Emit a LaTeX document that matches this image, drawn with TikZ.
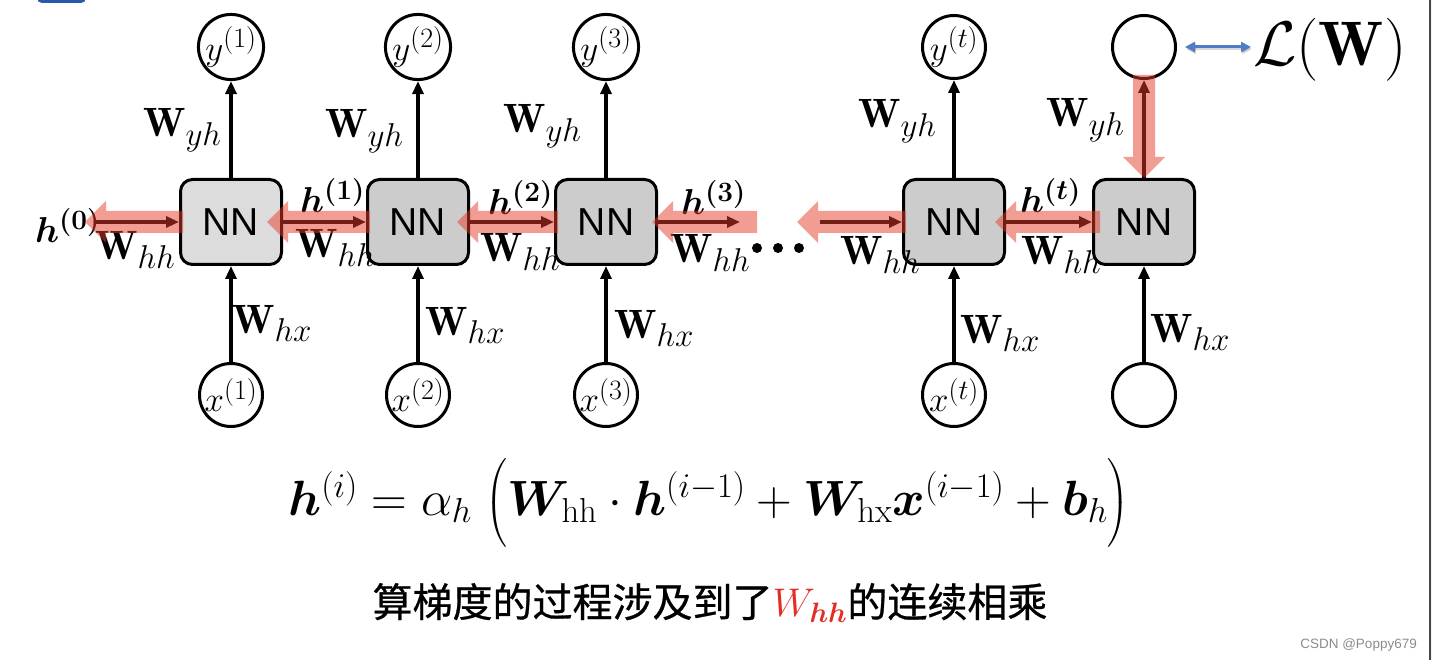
\RequirePackage{fix-cm}
\documentclass[tikz,border=0pt]{standalone}
\usepackage{amsmath,bm}
\usepackage{fontspec}
\newfontfamily\nnfont{Liberation Sans}
\newfontfamily\cjk[FakeBold=0.7]{Noto Sans CJK SC}
\usetikzlibrary{arrows.meta,calc}
\DeclareMathSizes{41}{41}{33}{26}
\DeclareMathSizes{36}{36}{28}{22}
\DeclareMathSizes{35}{35}{28}{22}
\definecolor{salmonc}{RGB}{230,60,42}
\definecolor{boxA}{RGB}{220,220,220}
\definecolor{boxB}{RGB}{204,204,204}
\definecolor{lossblue}{RGB}{80,125,195}
\definecolor{wred}{RGB}{228,45,35}
\definecolor{topblue}{RGB}{40,90,170}
\tikzset{
 nn/.style={draw, line width=3pt, rounded corners=12pt, minimum width=101pt, minimum height=85pt, inner sep=0pt, fill=boxB, font=\nnfont\fontsize{39}{40}\selectfont},
 io/.style={circle, draw, line width=3pt, minimum size=63pt, inner sep=0pt, font=\fontsize{35}{37}\selectfont},
 arr/.style={line width=3.5pt, -{Triangle[length=13pt,width=11pt]}},
 lab/.style={anchor=base west, inner sep=0pt, font=\fontsize{41}{44}\selectfont},
 hlab/.style={anchor=base west, inner sep=0pt, font=\fontsize{36}{40}\selectfont},
 salm/.style={fill=salmonc, fill opacity=0.5},
 lossarr/.style={line width=3pt, draw=lossblue, {Triangle[length=10pt,width=10pt]}-{Triangle[length=10pt,width=10pt]}},
}
\newcommand{\salarrow}[2]{%
 \coordinate (#2h) at ($(#2)!21pt!(#1)$);
 \fill[salm] ($(#1)!11pt!90:(#2)$) -- ($(#2h)!11pt!-90:(#1)$) -- ($(#2h)!21pt!-90:(#1)$) -- (#2) -- ($(#2h)!21pt!90:(#1)$) -- ($(#2h)!11pt!90:(#1)$) -- ($(#1)!11pt!-90:(#2)$) -- cycle;}
\begin{document}
\begin{tikzpicture}[x=1pt,y=-1pt]
\useasboundingbox (0,0) rectangle (1432,660);
\clip (0,0) rectangle (1432,660);
\fill[white] (0,0) rectangle (1432,660);
% top-left tab and right border
\fill[topblue, rounded corners=5pt] (37,-12) rectangle (86,3);
\fill[black!72] (1429,0) rectangle (1431,660);
\fill[black!5] (1431,0) rectangle (1432,660);

% boxes
\node[nn, fill=boxA] (b1) at (231,222) {NN};
\node[nn] (b2) at (418,222) {NN};
\node[nn] (b3) at (606,222) {NN};
\node[nn] (b4) at (954,222) {NN};
\node[nn] (b5) at (1144,222) {NN};

% output circles
\node[io] (y1) at (231,47) {$y^{(1)}$};
\node[io] (y2) at (418,47) {$y^{(2)}$};
\node[io] (y3) at (606,47) {$y^{(3)}$};
\node[io] (y4) at (954,47) {$y^{(t)}$};
\node[io] (o5) at (1144,47) {};

% input circles
\node[io] (x1) at (231,395) {$x^{(1)}$};
\node[io] (x2) at (418,395) {$x^{(2)}$};
\node[io] (x3) at (606,395) {$x^{(3)}$};
\node[io] (x4) at (954,395) {$x^{(t)}$};
\node[io] (x5) at (1144,395) {};

% vertical arrows
\foreach \b/\y in {b1/y1,b2/y2,b3/y3,b4/y4,b5/o5}{\draw[arr] (\b.north) -- (\y.south);}
\foreach \b/\x in {b1/x1,b2/x2,b3/x3,b4/x4,b5/x5}{\draw[arr] (\x.north) -- (\b.south);}

% horizontal arrows
\coordinate (h0s) at (94,222);
\coordinate (h3e) at (740,222);
\coordinate (h4s) at (820,222);
\draw[arr] (h0s) -- (b1.west);
\draw[arr] (b1.east) -- (b2.west);
\draw[arr] (b2.east) -- (b3.west);
\draw[arr] (b3.east) -- (h3e);
\draw[arr] (h4s) -- (b4.west);
\draw[arr] (b4.east) -- (b5.west);

% dots
\fill (757,248) circle[radius=5pt];
\fill (778,248) circle[radius=5pt];
\fill (799,248) circle[radius=5pt];

% labels W_yh
\node[lab] (wy1) at (143,137) {$\mathbf{W}_{yh}$};
\node[lab] (wy2) at (325,138) {$\mathbf{W}_{yh}$};
\node[lab] (wy3) at (503,133) {$\mathbf{W}_{yh}$};
\node[lab] (wy4) at (858,128) {$\mathbf{W}_{yh}$};
\node[lab] (wy5) at (1046,127) {$\mathbf{W}_{yh}$};
% labels W_hx
\node[lab] (wx1) at (232,333) {$\mathbf{W}_{hx}$};
\node[lab] (wx2) at (425,335) {$\mathbf{W}_{hx}$};
\node[lab] (wx3) at (614,338) {$\mathbf{W}_{hx}$};
\node[lab] (wx4) at (960,343) {$\mathbf{W}_{hx}$};
\node[lab] (wx5) at (1150,342) {$\mathbf{W}_{hx}$};
% labels W_hh
\node[lab] (wh0) at (95,260) {$\mathbf{W}_{hh}$};
\node[lab] (wh1) at (295,258) {$\mathbf{W}_{hh}$};
\node[lab] (wh2) at (480,262) {$\mathbf{W}_{hh}$};
\node[lab] (wh3) at (670,263) {$\mathbf{W}_{hh}$};
\node[lab] (wh4) at (840,265) {$\mathbf{W}_{hh}$};
\node[lab] (wh5) at (1021,265) {$\mathbf{W}_{hh}$};
% labels h
\node[hlab] (hl0) at (35,243) {$\bm{h}^{\bm{(0)}}$};
\node[hlab] (hl1) at (300,213) {$\bm{h}^{\bm{(1)}}$};
\node[hlab] (hl2) at (488,215) {$\bm{h}^{\bm{(2)}}$};
\node[hlab] (hl3) at (681,215) {$\bm{h}^{\bm{(3)}}$};
\node[hlab] (hlt) at (1020,213) {$\bm{h}^{\bm{(t)}}$};

% loss
\node[anchor=west, inner sep=0pt, font=\fontsize{63}{68}\selectfont] (loss) at (1253,50) {$\mathcal{L}(\mathbf{W})$};
\draw[lossarr, draw=black, opacity=0.15, shorten <=8pt, shorten >=2pt, transform canvas={shift={(1pt,-2pt)}}] (o5.east) -- (o5.east -| loss.west);
\draw[lossarr, shorten <=8pt, shorten >=2pt] (o5.east) -- (o5.east -| loss.west);

% salmon backprop arrows
\coordinate (s0) at ($(b1.west)+(4,0)$); \coordinate (t0) at (85,222);
\coordinate (s1) at ($(b2.west)+(4,0)$); \coordinate (t1) at ($(b1.east)+(-16,0)$);
\coordinate (s2) at ($(b3.west)+(4,0)$); \coordinate (t2) at ($(b2.east)+(-13,0)$);
\coordinate (s3) at (757,222); \coordinate (t3) at ($(b3.east)+(-6,0)$);
\coordinate (s4) at ($(b4.west)+(4,0)$); \coordinate (t4) at (797,222);
\coordinate (s5) at ($(b5.west)+(8,0)$); \coordinate (t5) at ($(b4.east)+(-11,0)$);
\coordinate (s6) at ($(o5.south)+(0,-5)$); \coordinate (t6) at (b5.north);
\salarrow{s0}{t0}
\salarrow{s1}{t1}
\salarrow{s2}{t2}
\salarrow{s3}{t3}
\salarrow{s4}{t4}
\salarrow{s5}{t5}
\salarrow{s6}{t6}

% formula
\node[inner sep=0pt, font=\fontsize{49.5}{55}\selectfont] (eq) at (709,503) {$\bm{h}^{(i)} = \alpha_h\;\Big( \bm{W}_{\mathrm{hh}} \cdot \bm{h}^{(i-1)} + \bm{W}_{\mathrm{hx}} \bm{x}^{(i-1)} + \bm{b}_h \Big)$};

% chinese caption
\node[inner sep=0pt, font=\fontsize{40}{44}\selectfont] (cap) at (710,603) {{\cjk 算梯度的过程涉及到了}{\color{wred}$W_{\bm{hh}}$}{\cjk 的连续相乘}};

% watermark
\node[anchor=base east, inner sep=0pt, text=black!45, font=\nnfont\fontsize{13.5}{15}\selectfont] (wm) at (1417,648) {CSDN @Poppy679};
\end{tikzpicture}
\end{document}
